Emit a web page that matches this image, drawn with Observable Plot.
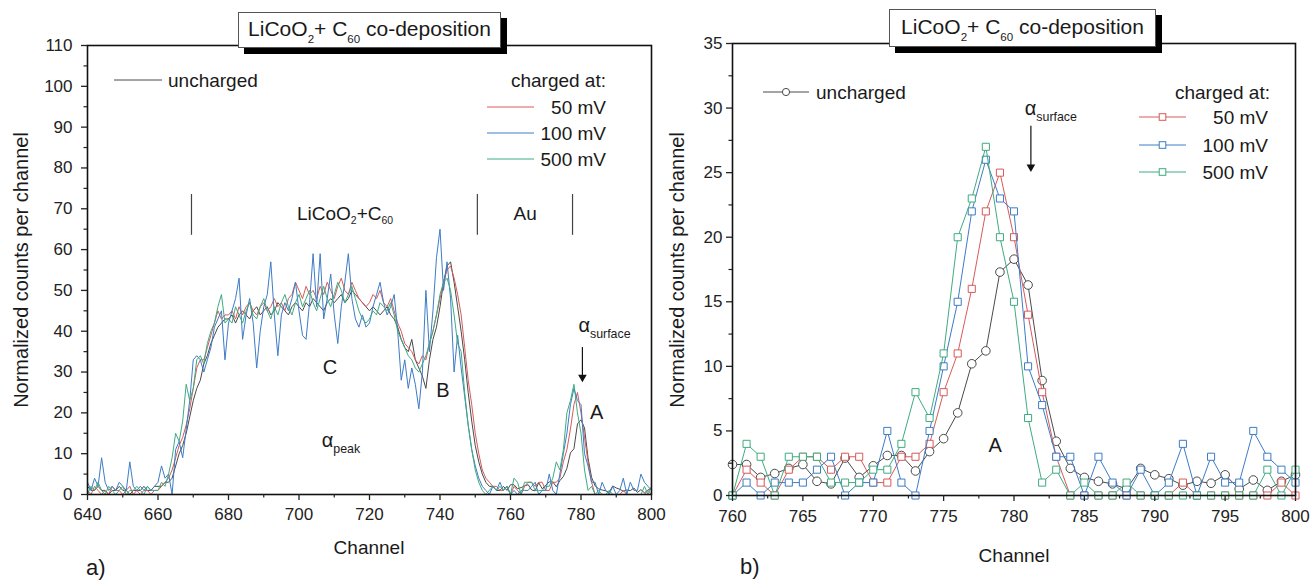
<!DOCTYPE html>
<html><head><meta charset="utf-8">
<script src="https://cdn.jsdelivr.net/npm/d3@7"></script>
<script src="https://cdn.jsdelivr.net/npm/@observablehq/plot@0.6"></script>
<style>
html,body{margin:0;padding:0;background:#fff;}
#wrap{position:relative;width:1311px;height:580px;overflow:hidden;font-family:"Liberation Sans",Arial,sans-serif;color:#1a1a1a;}
.panel{position:absolute;top:0;}
.t{position:absolute;white-space:nowrap;line-height:1;}
.t sub{font-size:0.62em;vertical-align:-0.5em;line-height:0;}
.t sub.s{font-size:0.55em;vertical-align:-0.45em;}
.tbox{position:absolute;box-sizing:border-box;background:#fff;border:1px solid #555;box-shadow:6px 6px 0 #000;font-size:21px;text-align:center;white-space:nowrap;line-height:1;}
.tbox span{position:absolute;left:50%;top:50%;transform:translate(-50%,-58%);}
.tbox sub{font-size:0.55em;vertical-align:-0.6em;line-height:0;}
.sw{position:absolute;overflow:visible;}
</style></head><body><div id="wrap"></div>
<script>
// ---------- data ----------
const seriesNames = ["uncharged", "50 mV", "100 mV", "500 mV"];
const seriesColors = ["#4a4a4a", "#d65a5a", "#3d7cc6", "#3fab80"];

// panel a: channels 640..759 (channels 760..800 come from the panel b arrays)
const channelsLow = d3.range(640, 760);
const unchargedLow = [
  2,1,1,2,1,1,0,1,1,2, 1,1,0,1,1,1,2,1,1,2, 2,2,3,3,4,7,10,12,15,19,
  23,26,28,32,34,37,39,41,42,43, 43,44,42,44,45,44,43,45,46,44, 45,46,44,45,47,46,45,44,46,47,
  46,45,47,46,48,47,46,45,47,48, 47,48,49,47,48,50,49,48,47,46, 45,46,45,44,45,46,44,43,41,38,
  36,35,38,33,31,29,26,33,38,41, 46,52,56,57,52,46,40,33,25,18, 12,8,5,3,2,2,1,1,2,1
];
const mv50Low = [
  1,0,2,1,0,1,0,2,1,1, 0,1,2,0,1,0,1,1,0,1, 1,2,3,4,6,9,12,14,17,21,
  26,31,33,33,36,39,42,45,43,44, 44,45,43,46,44,46,47,45,44,46, 47,45,46,48,46,47,45,48,49,52,
  50,48,51,49,50,48,51,49,52,50, 48,51,53,50,49,52,50,48,47,46, 47,49,48,50,47,46,48,45,42,40,
  37,36,35,33,32,34,33,37,40,44, 48,52,55,56,53,49,44,36,28,22, 15,10,6,4,3,2,2,1,1,2
];
const mv100Low = [
  3,1,4,2,9,3,1,2,1,3, 2,1,8,2,1,2,1,2,1,2, 3,7,4,5,0,11,13,9,16,23,
  33,34,33,30,33,36,41,43,45,33, 42,45,48,53,38,44,48,42,31,40, 46,49,57,44,34,44,47,45,48,52,
  45,39,38,47,59,46,59,43,48,54, 44,37,46,52,59,48,43,41,44,41, 42,46,49,52,47,44,46,49,40,28,
  33,26,31,27,21,30,50,35,45,58, 65,50,57,48,30,39,31,24,17,11, 7,4,2,1,0,2,1,3,1,2
];
const mv500Low = [
  0,2,1,3,1,0,2,1,0,1, 2,0,1,1,2,1,0,2,1,1, 1,3,2,5,9,15,13,18,27,23,
  26,33,34,32,37,40,42,46,49,42, 43,42,46,44,42,45,47,44,43,46, 48,45,43,46,44,47,49,46,44,47,
  49,46,48,50,47,45,48,51,48,46, 49,52,50,47,49,51,48,45,43,42, 43,45,44,47,46,45,47,44,40,38,
  36,34,33,31,30,32,34,37,40,44, 49,52,53,50,44,37,35,25,17,11, 6,3,1,0,1,2,1,2,1,2
];

// panel b: channels 760..800
const channelsPeak = d3.range(760, 801);
const unchargedPeak = [
  2.4,2.4,1.4,1.7,2.1,2.4,1.1,0.9,2.9,1.4, 2.3,3.1,3.1,1.9,3.4,4.4,6.4,10.2,11.2,17.3,
  18.3,16.3,8.9,4.2,2.1,1.4,1.1,0.9,0.5,2.1, 1.6,1.3,0.8,1.1,0.95,1.6,0.5,1.2,0.4,1.1, 1.6
];
const mv50Peak = [
  0,2,1,0,2,3,3,2,3,3, 1,1,3,3,4,8,11,16,22,25,
  20,14,8,3,0,0,0,0,0,0, 0,0,1,0,0,0,0,0,0,1, 0
];
const mv100Peak = [
  0,1,0,1,1,1,2,3,0,1, 1,5,1,0,5,10,15,22,26,23,
  22,10,7,3,3,0,3,1,0,2, 0,1,4,0,3,1,1,5,3,2, 1
];
const mv500Peak = [
  0,4,3,0,3,3,3,1,1,1, 2,2,4,8,6,11,20,23,27,20,
  15,6,1,2,0,1,0,0,1,0, 0,0,0,0,0,0,0,0,2,0, 2
];

// ticks
const xMajorA = d3.range(640, 801, 20), xMinorA = d3.range(650, 800, 20);
const yMajorA = d3.range(0, 111, 10), yMinorA = d3.range(5, 110, 10);
const xMajorB = d3.range(760, 801, 5), xMinorB = d3.range(762.5, 800, 5);
const yMajorB = d3.range(0, 36, 5), yMinorB = d3.range(2.5, 35, 5);

// annotations (data units)
const regionSeparators = [669.5, 750.6, 777.6];
const regionSepSpan = [63.5, 73.5];
const arrowA = [{channel: 780.4, from: 36, to: 28}];
const arrowB = [{channel: 781.2, from: 28.6, to: 25.2}];

// ---------- tables ----------
const lowArrays = [unchargedLow, mv50Low, mv100Low, mv500Low];
const peakArrays = [unchargedPeak, mv50Peak, mv100Peak, mv500Peak];
const tableA = [];
[0, 1, 2, 3].forEach(i => {
  channelsLow.forEach((c, j) => tableA.push({series: seriesNames[i], channel: c, value: lowArrays[i][j]}));
  channelsPeak.forEach((c, j) => tableA.push({series: seriesNames[i], channel: c, value: peakArrays[i][j]}));
});
const tablesB = seriesNames.map((s, i) => channelsPeak.map((c, j) => ({series: s, channel: c, value: peakArrays[i][j]})));

const FONT = "Liberation Sans, Arial, sans-serif";
const tickCol = "#222";

function axes(xMaj, xMin, yMaj, yMin, xPad, yPad) {
  return [
    Plot.axisX({ticks: xMaj, tickSize: 6, tickPadding: xPad, fontSize: 17, label: null, strokeWidth: 1.3}),
    Plot.axisX({ticks: xMin, tickSize: 3.5, tickFormat: () => "", label: null, strokeWidth: 1.2}),
    Plot.axisY({ticks: yMaj, tickSize: 6, tickPadding: yPad, fontSize: 17, label: null, strokeWidth: 1.3}),
    Plot.axisY({ticks: yMin, tickSize: 3.5, tickFormat: () => "", label: null, strokeWidth: 1.2})
  ];
}
function arrowMarks(data) {
  return [
    Plot.ruleX(data, {x: "channel", y1: "from", y2: "to", stroke: "#111", strokeWidth: 1.2}),
    Plot.dot(data, {x: "channel", y: "to", symbol: "triangle", rotate: 180, r: 3.2, fill: "#111", stroke: "none", dy: -3})
  ];
}

const plotA = Plot.plot({
  width: 660, height: 580,
  marginLeft: 87, marginRight: 9, marginTop: 45, marginBottom: 86,
  style: {background: "transparent", fontFamily: FONT, fontSize: "17px", color: tickCol, overflow: "visible"},
  x: {domain: [640, 800]},
  y: {domain: [0, 110]},
  color: {domain: seriesNames, range: seriesColors},
  marks: [
    Plot.line(tableA, {x: "channel", y: "value", z: "series", stroke: "series", strokeWidth: 1}),
    Plot.ruleX(regionSeparators, {x: d => d, y1: regionSepSpan[0], y2: regionSepSpan[1], stroke: "#444", strokeWidth: 1.2}),
    ...arrowMarks(arrowA),
    Plot.frame({stroke: "#111", strokeWidth: 1.6}),
    ...axes(xMajorA, xMinorA, yMajorA, yMinorA, 7, 9)
  ]
});

const marksB = [];
tablesB.forEach((t, i) => {
  marksB.push(Plot.line(t, {x: "channel", y: "value", stroke: seriesColors[i], strokeWidth: 1}));
  marksB.push(Plot.dot(t, {x: "channel", y: "value", stroke: seriesColors[i], fill: "white", strokeWidth: 1,
    symbol: i === 0 ? "circle" : "square", r: i === 0 ? 4.3 : 4}));
});
const plotB = Plot.plot({
  width: 651, height: 580,
  marginLeft: 72, marginRight: 16, marginTop: 43, marginBottom: 85,
  style: {background: "transparent", fontFamily: FONT, fontSize: "17px", color: tickCol, overflow: "visible"},
  x: {domain: [760, 800]},
  y: {domain: [0, 35]},
  marks: [
    ...marksB,
    ...arrowMarks(arrowB),
    Plot.frame({stroke: "#111", strokeWidth: 1.6}),
    ...axes(xMajorB, xMinorB, yMajorB, yMinorB, 8, 4)
  ]
});

// ---------- layout ----------
const wrap = document.getElementById("wrap");
function addPanel(left, svg) {
  const d = document.createElement("div");
  d.className = "panel"; d.style.left = left + "px";
  d.appendChild(svg); wrap.appendChild(d);
}
addPanel(0, plotA);
addPanel(660, plotB);

function put(html, x, y, size, anchor = "middle", extra = "") {
  const e = document.createElement("div");
  e.className = "t"; e.innerHTML = html;
  e.style.left = x + "px"; e.style.top = y + "px"; e.style.fontSize = size + "px";
  const tx = anchor === "middle" ? "-50%" : anchor === "end" ? "-100%" : "0";
  e.style.transform = `translate(${tx},-50%) ${extra}`;
  wrap.appendChild(e); return e;
}
function note(plot, left, html, ch, v, size, anchor) {
  const x = left + plot.scale("x").apply(ch), y = plot.scale("y").apply(v);
  put(html, x, y, size, anchor);
}

// panel a annotations
note(plotA, 0, "LiCoO<sub class='s'>2</sub>+C<sub class='s'>60</sub>", 713.2, 68.9, 19, "middle");
note(plotA, 0, "Au", 764.3, 68.9, 19, "middle");
note(plotA, 0, "C", 708.9, 31.2, 20, "middle");
note(plotA, 0, "B", 741.0, 25.5, 20, "middle");
note(plotA, 0, "A", 784.6, 20.2, 20, "middle");
note(plotA, 0, "α<sub>peak</sub>", 706.6, 13.2, 20, "start");
note(plotA, 0, "α<sub>surface</sub>", 779.4, 41.5, 20, "start");
// panel b annotations
note(plotB, 660, "α<sub>surface</sub>", 780.8, 30.0, 20, "start");
note(plotB, 660, "A", 778.7, 3.9, 20, "middle");

// axis titles
put("Normalized counts per channel", 21, 270, 20, "middle", "rotate(-90deg)");
put("Normalized counts per channel", 677, 270, 20, "middle", "rotate(-90deg)");
put("Channel", 369, 547, 19);
put("Channel", 1014, 555, 19);
put("a)", 86, 568, 22, "start");
put("b)", 740, 567, 22, "start");

// title boxes
function titleBox(left, top, w, h) {
  const b = document.createElement("div");
  b.className = "tbox";
  b.style.left = left + "px"; b.style.top = top + "px";
  b.style.width = w + "px"; b.style.height = h + "px";
  b.innerHTML = "<span>LiCoO<sub>2</sub>+ C<sub>60</sub>&nbsp;co-deposition</span>";
  wrap.appendChild(b);
}
titleBox(238, 12, 263, 36);
titleBox(889, 9, 267, 38);

// legends
const NS = "http://www.w3.org/2000/svg";
function swatch(x1, x2, y, color, symbol) {
  const s = document.createElementNS(NS, "svg");
  s.setAttribute("class", "sw");
  s.setAttribute("width", x2 - x1 + 10); s.setAttribute("height", 12);
  s.style.left = (x1 - 5) + "px"; s.style.top = (y - 6) + "px";
  const l = document.createElementNS(NS, "line");
  l.setAttribute("x1", 5); l.setAttribute("x2", x2 - x1 + 5); l.setAttribute("y1", 6); l.setAttribute("y2", 6);
  l.setAttribute("stroke", color); l.setAttribute("stroke-width", 1);
  s.appendChild(l);
  const cx = (x2 - x1) / 2 + 5;
  if (symbol === "circle") {
    const c = document.createElementNS(NS, "circle");
    c.setAttribute("cx", cx); c.setAttribute("cy", 6); c.setAttribute("r", 3.6);
    c.setAttribute("fill", "white"); c.setAttribute("stroke", color);
    s.appendChild(c);
  } else if (symbol === "square") {
    const r = document.createElementNS(NS, "rect");
    r.setAttribute("x", cx - 3.3); r.setAttribute("y", 2.7); r.setAttribute("width", 6.6); r.setAttribute("height", 6.6);
    r.setAttribute("fill", "white"); r.setAttribute("stroke", color);
    s.appendChild(r);
  }
  wrap.appendChild(s);
}
swatch(114, 162, 80, seriesColors[0], null);
put("uncharged", 168, 80, 19, "start");
put("charged at:", 606, 80, 19, "end");
[107, 133, 159].forEach((y, k) => {
  swatch(487, 534, y, seriesColors[k + 1], null);
  put(seriesNames[k + 1], 606, y, 19, "end");
});
swatch(763, 809, 92, seriesColors[0], "circle");
put("uncharged", 816, 92, 19, "start");
put("charged at:", 1270, 92, 19, "end");
[117, 145, 172].forEach((y, k) => {
  swatch(1139, 1186, y, seriesColors[k + 1], "square");
  put(seriesNames[k + 1], 1268, y, 19, "end");
});
</script>
</body></html>
